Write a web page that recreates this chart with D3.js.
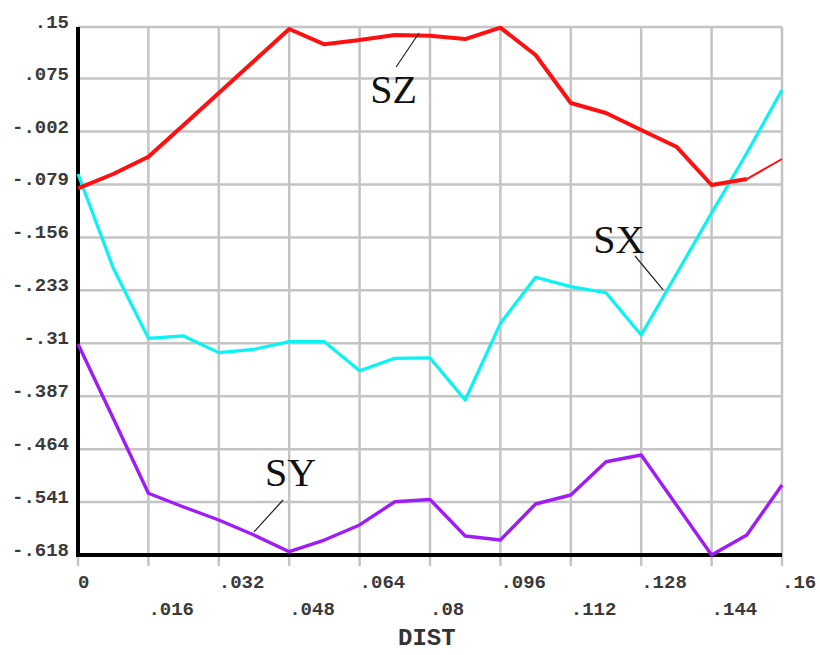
<!DOCTYPE html>
<html>
<head>
<meta charset="utf-8">
<script src="https://cdn.jsdelivr.net/npm/d3@7"></script>
<style>
  html, body { margin: 0; padding: 0; background: #ffffff; }
  svg { display: block; }
  .tick-label { font-family: "Liberation Mono", "DejaVu Sans Mono", monospace; font-weight: bold; font-size: 19px; fill: #3a3a3a; }
  .axis-title { font-family: "Liberation Mono", "DejaVu Sans Mono", monospace; font-weight: bold; font-size: 24px; fill: #333; }
  .series-label { font-family: "Liberation Serif", "Times New Roman", serif; font-size: 40px; fill: #111; }
</style>
</head>
<body>
<svg id="chart" width="820" height="655"></svg>
<script>
// Distance along the path (DIST)
const dist = [0, 0.008, 0.016, 0.024, 0.032, 0.040, 0.048, 0.056, 0.064, 0.072, 0.080,
              0.088, 0.096, 0.104, 0.112, 0.120, 0.128, 0.136, 0.144, 0.152, 0.160];

// Stress components along the path
const sz = [-0.0846, -0.0638, -0.0387, 0.0075, 0.0540, 0.1005, 0.1471, 0.1248, 0.1311, 0.1384, 0.1373,
            0.1325, 0.1490, 0.1093, 0.0395, 0.0249, 0.0002, -0.0241, -0.0798, -0.0711, -0.0420];
const sx = [-0.0638, -0.2005, -0.3028, -0.2994, -0.3237, -0.3188, -0.3077, -0.3077, -0.3499, -0.3319, -0.3314,
            -0.3925, -0.2810, -0.2141, -0.2277, -0.2365, -0.2980, -0.2093, -0.1205, -0.0333, 0.0584];
const sy = [-0.3111, -0.4192, -0.5282, -0.5482, -0.5671, -0.5889, -0.6132, -0.5962, -0.5743, -0.5405, -0.5373,
            -0.5903, -0.5962, -0.5438, -0.5307, -0.4823, -0.4725, -0.5453, -0.6180, -0.5889, -0.5162];

// Axis ticks
const xTickValues = [0, 0.016, 0.032, 0.048, 0.064, 0.08, 0.096, 0.112, 0.128, 0.144, 0.16];
const xTickLabels = ["0", ".016", ".032", ".048", ".064", ".08", ".096", ".112", ".128", ".144", ".16"];
const yTickValues = [0.15, 0.075, -0.002, -0.079, -0.156, -0.233, -0.31, -0.387, -0.464, -0.541, -0.618];
const yTickLabels = [".15", ".075", "-.002", "-.079", "-.156", "-.233", "-.31", "-.387", "-.464", "-.541", "-.618"];

// Curve labels with their leader lines (data coordinates)
const labels = [
  { text: "SZ", x: 0.0664, y: 0.0395, from: [0.0723, 0.0918], to: [0.0775, 0.1413] },
  { text: "SX", x: 0.1171, y: -0.1787, from: [0.1266, -0.1831], to: [0.1330, -0.2325] },
  { text: "SY", x: 0.0425, y: -0.5176, from: [0.0466, -0.5380], to: [0.0400, -0.5845] }
];

const svg = d3.select("#chart");
const plot = { left: 78, right: 782, top: 27, bottom: 555 };

const x = d3.scaleLinear().domain([0, 0.16]).range([plot.left, plot.right]);
const y = d3.scaleLinear().domain([-0.618, 0.15]).range([plot.bottom, plot.top]);

// Grid: vertical lines extend below the axis as tick marks
const grid = svg.append("g").attr("stroke", "#c4c4c4").attr("stroke-width", 2.5);
grid.selectAll("line.v").data(xTickValues).join("line")
  .attr("class", "v")
  .attr("x1", d => x(d)).attr("x2", d => x(d))
  .attr("y1", plot.top).attr("y2", plot.bottom + 11);
grid.selectAll("line.h").data(yTickValues).join("line")
  .attr("class", "h")
  .attr("x1", plot.left).attr("x2", plot.right)
  .attr("y1", d => y(d)).attr("y2", d => y(d));

// Axis lines
svg.append("line")
  .attr("x1", plot.left).attr("x2", plot.left)
  .attr("y1", plot.top).attr("y2", plot.bottom + 2)
  .attr("stroke", "#000").attr("stroke-width", 4);
svg.append("line")
  .attr("x1", plot.left - 2).attr("x2", plot.right)
  .attr("y1", plot.bottom).attr("y2", plot.bottom)
  .attr("stroke", "#000").attr("stroke-width", 4);

// Y tick labels
svg.append("g").selectAll("text").data(yTickValues).join("text")
  .attr("class", "tick-label")
  .attr("x", plot.left - 9)
  .attr("y", d => y(d) + 1)
  .attr("text-anchor", "end")
  .text((d, i) => yTickLabels[i]);

// X tick labels, staggered on two rows
svg.append("g").selectAll("text").data(xTickValues).join("text")
  .attr("class", "tick-label")
  .attr("x", d => x(d))
  .attr("y", (d, i) => i % 2 === 0 ? 588 : 615)
  .attr("text-anchor", "start")
  .text((d, i) => xTickLabels[i]);

svg.append("text")
  .attr("class", "axis-title")
  .attr("x", 398).attr("y", 645)
  .text("DIST");

// Series
const line = d3.line().x(d => x(d[0])).y(d => y(d[1]));
const pairs = vals => dist.map((d, i) => [d, vals[i]]);

svg.append("path").datum(pairs(sx))
  .attr("d", line).attr("fill", "none")
  .attr("stroke", "#08f4f4").attr("stroke-width", 3.2)
  .attr("stroke-linejoin", "round");

svg.append("path").datum(pairs(sy))
  .attr("d", line).attr("fill", "none")
  .attr("stroke", "#a01cf6").attr("stroke-width", 3.4)
  .attr("stroke-linejoin", "round");

// SZ: heavy trace, lighter final segment
const szPts = pairs(sz);
svg.append("path").datum(szPts.slice(0, szPts.length - 1))
  .attr("d", line).attr("fill", "none")
  .attr("stroke", "#ff1010").attr("stroke-width", 4)
  .attr("stroke-linejoin", "round");
svg.append("path").datum(szPts.slice(szPts.length - 2))
  .attr("d", line).attr("fill", "none")
  .attr("stroke", "#ff1010").attr("stroke-width", 2);

// Curve labels
const lab = svg.append("g");
lab.selectAll("line").data(labels).join("line")
  .attr("x1", d => x(d.from[0])).attr("y1", d => y(d.from[1]))
  .attr("x2", d => x(d.to[0])).attr("y2", d => y(d.to[1]))
  .attr("stroke", "#222").attr("stroke-width", 1.2);
lab.selectAll("text").data(labels).join("text")
  .attr("class", "series-label")
  .attr("x", d => x(d.x)).attr("y", d => y(d.y))
  .text(d => d.text);
</script>
</body>
</html>
